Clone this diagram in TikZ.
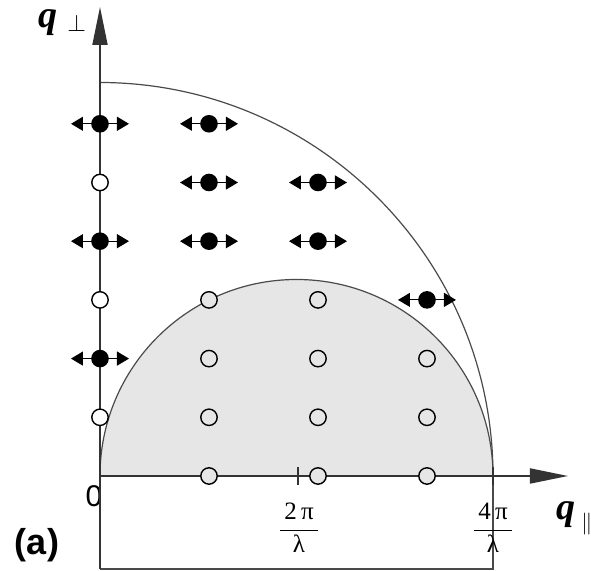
\documentclass[tikz,border=0pt]{standalone}
\usepackage{fontspec}
\setmainfont{Liberation Serif}
\setsansfont{Liberation Sans}
\usetikzlibrary{arrows.meta}
\definecolor{cline}{HTML}{333333}
\definecolor{cedge}{HTML}{4A4A4A}
\definecolor{cshade}{HTML}{E6E6E6}
\tikzset{
  every picture/.style={line width=0.5pt},
  axis/.style={draw=cline, line width=0.9pt, -{Triangle[length=19pt, width=7.5pt]}},
  axisline/.style={draw=cline, line width=0.9pt},
  shell/.style={draw=cedge, line width=0.6pt},
  open/.style={circle, draw=black, fill=#1, line width=0.7pt, minimum size=8.2pt, inner sep=0pt},
  open/.default=cshade,
  full/.style={circle, fill=black, minimum size=8.8pt, inner sep=0pt},
  swing/.style={draw=black, line width=0.6pt, {Triangle[length=6pt, width=7pt]}-{Triangle[length=6pt, width=7pt]}},
  qlabel/.style={font=\fontsize{19}{22}\selectfont\bfseries\itshape, inner sep=0pt},
  klabel/.style={font=\fontsize{12.5}{15}\selectfont, inner sep=0pt},
  zlabel/.style={font=\fontsize{15}{17}\selectfont\sffamily, inner sep=0pt},
  panel/.style={font=\fontsize{18}{20}\selectfont\sffamily\bfseries, inner sep=0pt},
}
\newcommand{\kfrac}[2]{\(\displaystyle\frac{\mbox{\hspace{2pt}#1\hspace{2pt}}}{\mbox{#2}}\)}

\begin{document}
\begin{tikzpicture}[x=0.5pt, y=0.5pt]
  \useasboundingbox (-100,-95) rectangle (491,476);
  % axes and frame corners
  \coordinate (O) at (0,0);
  \coordinate (xtip) at (468,0);
  \coordinate (ytip) at (0,469);
  \coordinate (bl) at (0,-93);
  \coordinate (br) at (393,-93);
  \coordinate (k2) at (198,0);
  \coordinate (k4) at (393,0);
  % shaded half disc and outer quarter circle
  \fill[cshade] (O) arc (180:0:196.5) -- cycle;
  \draw[shell] (O) arc (180:0:196.5);
  \draw[shell] (k4) arc (0:90:393.5);
  \node[zlabel] (zero) at (-6,-20) {0};
  \draw[shell] (bl) -- (br) -- (k4);
  \draw[axis] (O) -- (xtip);
  \draw[axis] (bl) -- (ytip);
  \foreach \t in {O, k2, k4}
    \draw[axisline] (\t) ++(0,-9) -- ++(0,18);
  % open circles
  \foreach \i/\j in {0/1, 0/3, 0/5}
    \node[open=white] (o\i\j) at (109*\i, 58.7*\j) {};
  \foreach \i/\j in {1/0,1/1,1/2,1/3,2/0,2/1,2/2,2/3,3/0,3/1,3/2}
    \node[open] (o\i\j) at (109*\i, 58.7*\j) {};
  % filled circles with double arrows
  \foreach \i/\j in {0/2,0/4,0/6,1/4,1/5,1/6,2/4,2/5,3/3} {
    \node[full] (f\i\j) at (109*\i, 58.7*\j) {};
    \coordinate (fw\i\j) at (109*\i-29, 58.7*\j);
    \coordinate (fe\i\j) at (109*\i+29, 58.7*\j);
    \draw[swing] (fw\i\j) -- (fe\i\j);
  }
  % labels
  \node[qlabel, anchor=west] (qperp) at (-62,453) {q\hspace{5pt}\raisebox{-2pt}{\fontsize{13}{14}\selectfont\mdseries\upshape$\perp$}};
  \node[qlabel, anchor=west] (qpar) at (456,-42) {q\hspace{3pt}\raisebox{-5pt}{\fontsize{11}{12}\selectfont\mdseries\upshape$\parallel$}};
  \node[klabel] (two) at (199,-52) {\kfrac{2\,π}{λ}};
  \node[klabel] (four) at (393,-52) {\kfrac{4\,π}{λ}};
  \node[panel] (tag) at (-63,-69) {(a)};
\end{tikzpicture}
\end{document}
